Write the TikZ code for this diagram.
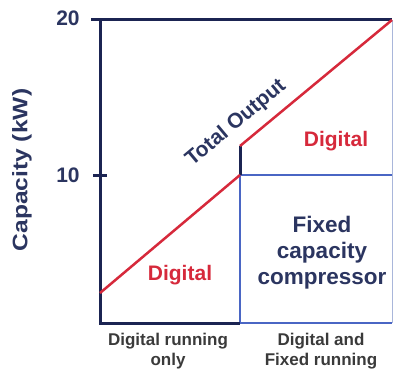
\documentclass[tikz,border=0pt]{standalone}
\usepackage{fontspec}
\setmainfont{Liberation Sans}
\usepackage{tikz}
\definecolor{navy}{HTML}{1B2452}
\definecolor{boxblue}{HTML}{4A66C4}
\definecolor{edgeblue}{HTML}{A9B6DA}
\definecolor{outred}{HTML}{D6293B}
\definecolor{txtnavy}{HTML}{2B3560}
\definecolor{txtgray}{HTML}{3A3A3A}

\begin{document}
\begin{tikzpicture}[x=1pt,y=-1pt,
    axis/.style={line width=3pt,draw=navy},
    box/.style={line width=2pt,draw=boxblue},
    output/.style={line width=2.5pt,draw=outred},
    big/.style={font=\bfseries\fontsize{21}{26}\selectfont},
    small/.style={font=\bfseries\fontsize{17}{20}\selectfont,text=txtgray,align=center}]

\useasboundingbox (0,0) rectangle (394,369);

\coordinate (O) at (100,323);
\coordinate (Y20) at (100,20);
\coordinate (T20) at (91,20);
\coordinate (T10a) at (93,175);
\coordinate (T10b) at (107,175);
\coordinate (Start) at (100,293);
\coordinate (M) at (240,323);
\coordinate (M10) at (240,175);
\coordinate (Step) at (240,146);
\coordinate (R20) at (392,20);
\coordinate (R10) at (392,175);
\coordinate (R0) at (392,323);

% frame of the chart
\draw[line width=1pt,draw=edgeblue] (R20) -- (R0);
\draw[box] (M10) -- (R10);
\draw[box] (M10) -- (M) -- (R0);
\draw[axis] (T20) -- (R20);
\draw[axis] (Y20) -- (O) -- (M);
\draw[axis] (T10a) -- (T10b);
\draw[axis] (M10) -- (Step);

% total output
\draw[output] (Start) -- (M10);
\draw[output] (Step) -- (R20);

\node[big, text=txtnavy] (L20) at (68,18) {20};
\node[big, text=txtnavy] (L10) at (68,175) {10};
\node[big, text=txtnavy, rotate=90, xscale=1.17] (cap) at (22,170) {Capacity (kW)};
\node[big, text=txtnavy, rotate=40] (tot) at (236,123) {Total Output};
\node[big, text=outred] (dig1) at (336,141) {Digital};
\node[big, text=outred] (dig2) at (180,275) {Digital};
\node[text=txtnavy, align=center, font=\bfseries\fontsize{22.5}{26}\selectfont] (fix) at (322,253) {Fixed\\capacity\\compressor};
\node[small] (run1) at (168,351) {Digital running\\only};
\node[small] (run2) at (321,351) {Digital and\\Fixed running};

\end{tikzpicture}
\end{document}
